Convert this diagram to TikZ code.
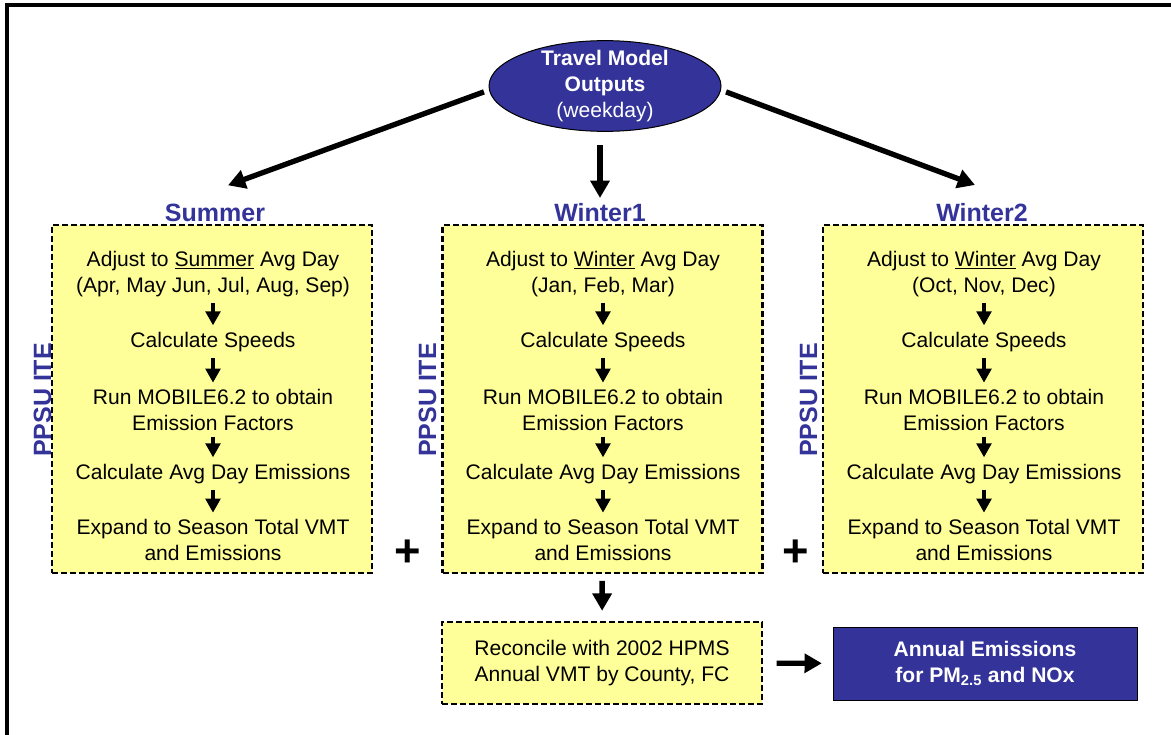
\documentclass[tikz,border=0pt]{standalone}
\usepackage{fontspec}
\setmainfont{Liberation Sans}
\usetikzlibrary{shapes.geometric,arrows.meta,calc}
\definecolor{modelblue}{RGB}{51,51,153}
\definecolor{boxyellow}{RGB}{255,255,153}
\tikzset{every picture/.style={line width=0.75pt}}
\tikzset{
  dashbox/.style={draw, line width=1.8pt, dash pattern=on 4.5pt off 2.25pt, fill=boxyellow, inner sep=0pt},
  seasonbox/.style={dashbox, minimum width=240pt, minimum height=261pt},
  steptext/.style={align=center, inner sep=0.75pt, font=\fontsize{15.8}{19.2}\selectfont},
  seasonlbl/.style={text=modelblue, inner sep=1pt, font=\bfseries\fontsize{18.75}{22}\selectfont},
  ppsulbl/.style={seasonlbl, rotate=90},
  bigarrow/.style={line width=4pt, -{Triangle[length=13pt,width=14pt]}},
  smallarrow/.style={line width=2.5pt, -{Triangle[length=10.5pt,width=11pt]}, shorten <=3.5pt, shorten >=4pt},
}

\begin{document}
\begin{tikzpicture}[x=0.75pt,y=0.75pt,yscale=-1,xscale=1]
\useasboundingbox (0,0) rectangle (1171,735);

%Shape: Frame
\draw [line width=3pt] (7,760) -- (7,5) -- (1190,5) ;

%Shape: Ellipse [travel model]
\node (tmo) [ellipse, draw, fill=modelblue, text=white, align=center, inner xsep=0pt, inner ysep=-2.5pt, minimum width=174pt, minimum height=66pt, font=\fontsize{15.8}{19.2}\selectfont] at (605,86) {\textbf{Travel Model}\\\textbf{Outputs}\\(weekday)};

%Shape: Season Boxes
\node (sumbox) [seasonbox] at (212,399) {};
\node (w1box) [seasonbox] at (602.5,399) {};
\node (w2box) [seasonbox] at (983,399) {};

% Text Node
\node (sumlbl) [seasonlbl] at (215,213) {Summer};
% Text Node
\node (w1lbl) [seasonlbl] at (600,213) {Winter1};
% Text Node
\node (w2lbl) [seasonlbl] at (982,213) {Winter2};
% Text Node
\node (sumppsu) [ppsulbl] at (42.5,400) {PPSU ITE};
% Text Node
\node (w1ppsu) [ppsulbl] at (427.5,400) {PPSU ITE};
% Text Node
\node (w2ppsu) [ppsulbl] at (808.5,400) {PPSU ITE};

%Arrows from the model outputs
\draw [bigarrow, shorten <=4pt] (tmo.182) -- ($(sumlbl.north)+(13,-17)$) ;
\draw [bigarrow, shorten <=10pt, shorten >=3pt] (tmo.south -| w1lbl.north) -- (w1lbl.north) ;
\draw [bigarrow, shorten <=4pt] (tmo.358) -- ($(w2lbl.north)+(-7,-17)$) ;

% Summer steps
\node (sum1) [steptext] at (213,274) {Adjust to \underline{Summer} Avg Day\\(Apr, May Jun, Jul, Aug, Sep)};
\node (sum2) [steptext] at (213,342) {Calculate Speeds};
\node (sum3) [steptext] at (213,410) {Run MOBILE6.2 to obtain\\Emission Factors};
\node (sum4) [steptext] at (213,474) {Calculate Avg Day Emissions};
\node (sum5) [steptext] at (213,540) {Expand to Season Total VMT\\and Emissions};
\draw [smallarrow] (sum1) -- (sum2) ;
\draw [smallarrow] (sum2) -- (sum3) ;
\draw [smallarrow] (sum3) -- (sum4) ;
\draw [smallarrow] (sum4) -- (sum5) ;

% Winter1 steps
\node (win1) [steptext] at (603,274) {Adjust to \underline{Winter} Avg Day\\(Jan, Feb, Mar)};
\node (win2) [steptext] at (603,342) {Calculate Speeds};
\node (win3) [steptext] at (603,410) {Run MOBILE6.2 to obtain\\Emission Factors};
\node (win4) [steptext] at (603,474) {Calculate Avg Day Emissions};
\node (win5) [steptext] at (603,540) {Expand to Season Total VMT\\and Emissions};
\draw [smallarrow] (win1) -- (win2) ;
\draw [smallarrow] (win2) -- (win3) ;
\draw [smallarrow] (win3) -- (win4) ;
\draw [smallarrow] (win4) -- (win5) ;

% Winter2 steps
\node (wtr1) [steptext] at (984,274) {Adjust to \underline{Winter} Avg Day\\(Oct, Nov, Dec)};
\node (wtr2) [steptext] at (984,342) {Calculate Speeds};
\node (wtr3) [steptext] at (984,410) {Run MOBILE6.2 to obtain\\Emission Factors};
\node (wtr4) [steptext] at (984,474) {Calculate Avg Day Emissions};
\node (wtr5) [steptext] at (984,540) {Expand to Season Total VMT\\and Emissions};
\draw [smallarrow] (wtr1) -- (wtr2) ;
\draw [smallarrow] (wtr2) -- (wtr3) ;
\draw [smallarrow] (wtr3) -- (wtr4) ;
\draw [smallarrow] (wtr4) -- (wtr5) ;

% Text Node
\node (plus1) [font=\bfseries\fontsize{34}{34}\selectfont, inner sep=0pt] at (408,553) {+};
% Text Node
\node (plus2) [font=\bfseries\fontsize{34}{34}\selectfont, inner sep=0pt] at (796,553) {+};

%Shape: Reconcile box
\node (recon) [dashbox, steptext, inner sep=0pt, minimum width=240pt, minimum height=61.5pt] at (602,663) {Reconcile with 2002 HPMS\\Annual VMT by County, FC};
%Shape: Annual emissions box
\node (annual) [draw, fill=modelblue, text=white, align=center, minimum width=228pt, minimum height=54.75pt, font=\bfseries\fontsize{15.8}{19.2}\selectfont] at (985,663.5) {Annual Emissions\\for PM\textsubscript{2.5} and NOx};

\draw [bigarrow, shorten <=5pt, shorten >=7.5pt] (w1box) -- (recon) ;
\draw [bigarrow, shorten <=10pt, shorten >=8pt] (recon) -- (annual) ;

\end{tikzpicture}
\end{document}
